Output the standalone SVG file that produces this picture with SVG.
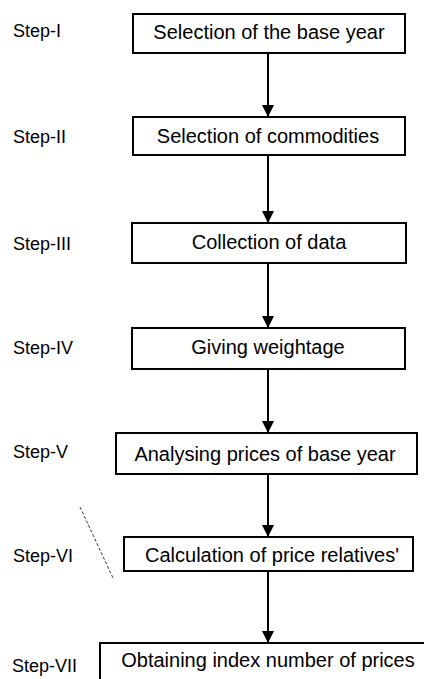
<svg xmlns="http://www.w3.org/2000/svg" width="424" height="679" viewBox="0 0 424 679">
<style>
.box{fill:#fff;stroke:#000;stroke-width:2}
.t{font-family:"Liberation Sans",Arial,sans-serif;font-size:20px;fill:#000;text-anchor:middle}
.s{font-family:"Liberation Sans",Arial,sans-serif;font-size:18px;fill:#000}
.c{stroke:#000;stroke-width:2;fill:none}
</style>
<defs>
<marker id="ah" viewBox="0 0 12 12" refX="12" refY="6" markerWidth="12" markerHeight="12" markerUnits="userSpaceOnUse" orient="auto">
<path d="M0,0 L12,6 L0,12 Z" fill="#000"/>
</marker>
</defs>
<rect width="424" height="679" fill="#fff"/>
<g id="labels">
<text class="s" x="13" y="37">Step-I</text>
<text class="s" x="13" y="143">Step-II</text>
<text class="s" x="13" y="250">Step-III</text>
<text class="s" x="13" y="354">Step-IV</text>
<text class="s" x="13" y="458">Step-V</text>
<text class="s" x="13" y="562">Step-VI</text>
<text class="s" x="12" y="672">Step-VII</text>
</g>
<g id="connectors">
<line class="c" x1="268" y1="53" x2="268" y2="117" marker-end="url(#ah)"/>
<line class="c" x1="268" y1="155" x2="268" y2="223" marker-end="url(#ah)"/>
<line class="c" x1="268" y1="263" x2="268" y2="328" marker-end="url(#ah)"/>
<line class="c" x1="268" y1="369" x2="268" y2="433" marker-end="url(#ah)"/>
<line class="c" x1="268" y1="474" x2="268" y2="537" marker-end="url(#ah)"/>
<line class="c" x1="268" y1="571" x2="268" y2="643" marker-end="url(#ah)"/>
</g>
<g id="node1"><rect class="box" x="133" y="14" width="272" height="39"/><text class="t" x="269" y="39">Selection of the base year</text></g>
<g id="node2"><rect class="box" x="133" y="117" width="272" height="38"/><text class="t" x="268" y="143">Selection of commodities</text></g>
<g id="node3"><rect class="box" x="132" y="223" width="274" height="40"/><text class="t" x="269" y="249">Collection of data</text></g>
<g id="node4"><rect class="box" x="132" y="328" width="273" height="41"/><text class="t" x="268" y="354">Giving weightage</text></g>
<g id="node5"><rect class="box" x="116" y="433" width="301" height="41"/><text class="t" x="265" y="461">Analysing prices of base year</text></g>
<g id="node6"><rect class="box" x="124" y="537" width="289" height="34"/><text class="t" x="272" y="562">Calculation of price relatives'</text></g>
<g id="node7"><rect class="box" x="100" y="643" width="340" height="50"/><text class="t" x="268" y="667">Obtaining index number of prices</text></g>
<path d="M80,507 L113,578" stroke="#333" stroke-width="1" stroke-dasharray="3,2" fill="none"/>
</svg>
